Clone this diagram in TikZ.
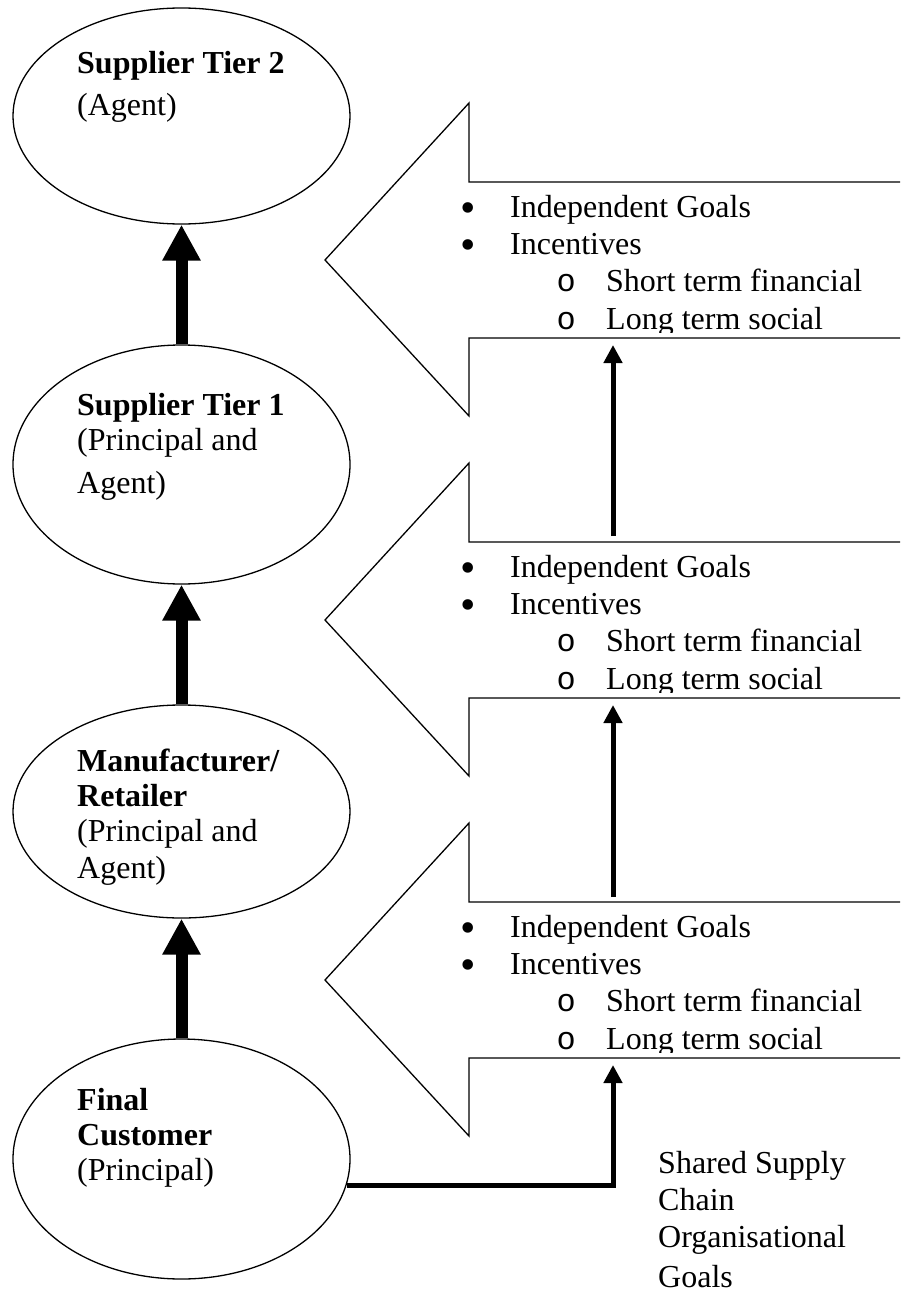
\documentclass[tikz,border=0pt]{standalone}
\usepackage{fontspec}
\setmainfont{Liberation Serif}
\newfontfamily\submono{Liberation Mono}
\usetikzlibrary{shapes.geometric,arrows.meta}
\newcommand{\bul}{\llap{\raisebox{-5pt}{\fontsize{44}{44}\selectfont\makebox[15.4pt]{•}}\hspace{34.3pt}}}
\newcommand{\subbul}{\llap{\makebox[19.2pt]{\submono o}\hspace{30.4pt}}}
\begin{document}
\begin{tikzpicture}[x=1pt,y=-1pt,
  actor/.style={ellipse, draw, line width=1.3pt, minimum width=337pt, inner sep=0pt},
  etext/.style={anchor=base west, align=left, inner sep=0pt, font=\fontsize{32}{35}\selectfont},
  ltext/.style={anchor=base west, align=left, inner sep=0pt, font=\fontsize{32}{37.3}\selectfont},
  stext/.style={anchor=base west, align=left, inner sep=0pt, font=\fontsize{32}{37}\selectfont},
  block/.style={draw, line width=1.3pt, fill=white, line join=miter},
  bigarrow/.style={line width=12pt, -{Triangle[width=36pt,length=36pt]}},
  smallarrow/.style={line width=5pt, -{Triangle[width=18pt,length=18pt]}},
]
\useasboundingbox (0,0) rectangle (900,1292);
\begin{scope}
\clip (0,0) rectangle (900,1292);

% block arrows with their lists (node placed by its last baseline)
\foreach \k in {0,1,2}{
  \pgfmathsetmacro{\o}{360*\k}
  \draw[block] (469,103+\o) -- (469,182+\o) -- (930,182+\o) -- (930,338+\o)
     -- (469,338+\o) -- (469,416+\o) -- (325,260+\o) -- cycle;
  \begin{scope}
    \clip (440,184+\o) rectangle (900,332+\o);
    \node[ltext] (goals\k) at (510,329+\o)
      {\bul Independent Goals\\
       \bul Incentives\\
       \hspace*{96pt}\subbul Short term financial\\
       \hspace*{96pt}\subbul Long term social};
  \end{scope}
}

% actors
\node[actor, minimum height=216pt] (st2) at (181.5,116) {};
\node[actor, minimum height=239pt] (st1) at (181.5,464.5) {};
\node[actor, minimum height=213pt] (mr) at (181.5,811.5) {};
\node[actor, minimum height=240pt] (fc) at (181.5,1159) {};

\node[etext] (t2) at (77,116) {\textbf{Supplier Tier 2}\\[7pt](Agent)};
\node[etext] (t1) at (77,493) {\textbf{Supplier Tier 1}\\(Principal and\\[8pt]Agent)};
\node[etext] (tm) at (77,878) {\textbf{Manufacturer/}\\\textbf{Retailer}\\(Principal and\\[2pt]Agent)};
\node[etext] (tf) at (77,1180) {\textbf{Final}\\\textbf{Customer}\\(Principal)};

% thick arrows between actors
\draw[bigarrow] (st1.north) -- (st2.south);
\draw[bigarrow] (mr.north) -- (st1.south);
\draw[bigarrow] (fc.north) -- (mr.south);

% thin arrows
\coordinate (s1) at (613,536);
\coordinate (e1) at (613,345);
\coordinate (s2) at (613,897);
\coordinate (e2) at (613,705);
\coordinate (e3) at (613,1065);
\draw[smallarrow] (s1) -- (e1);
\draw[smallarrow] (s2) -- (e2);
\draw[smallarrow] (fc.-9) -| (e3);

\node[stext] (shared) at (658,1287) {Shared Supply\\Chain\\Organisational\\[3pt]Goals};
\end{scope}
\end{tikzpicture}
\end{document}
